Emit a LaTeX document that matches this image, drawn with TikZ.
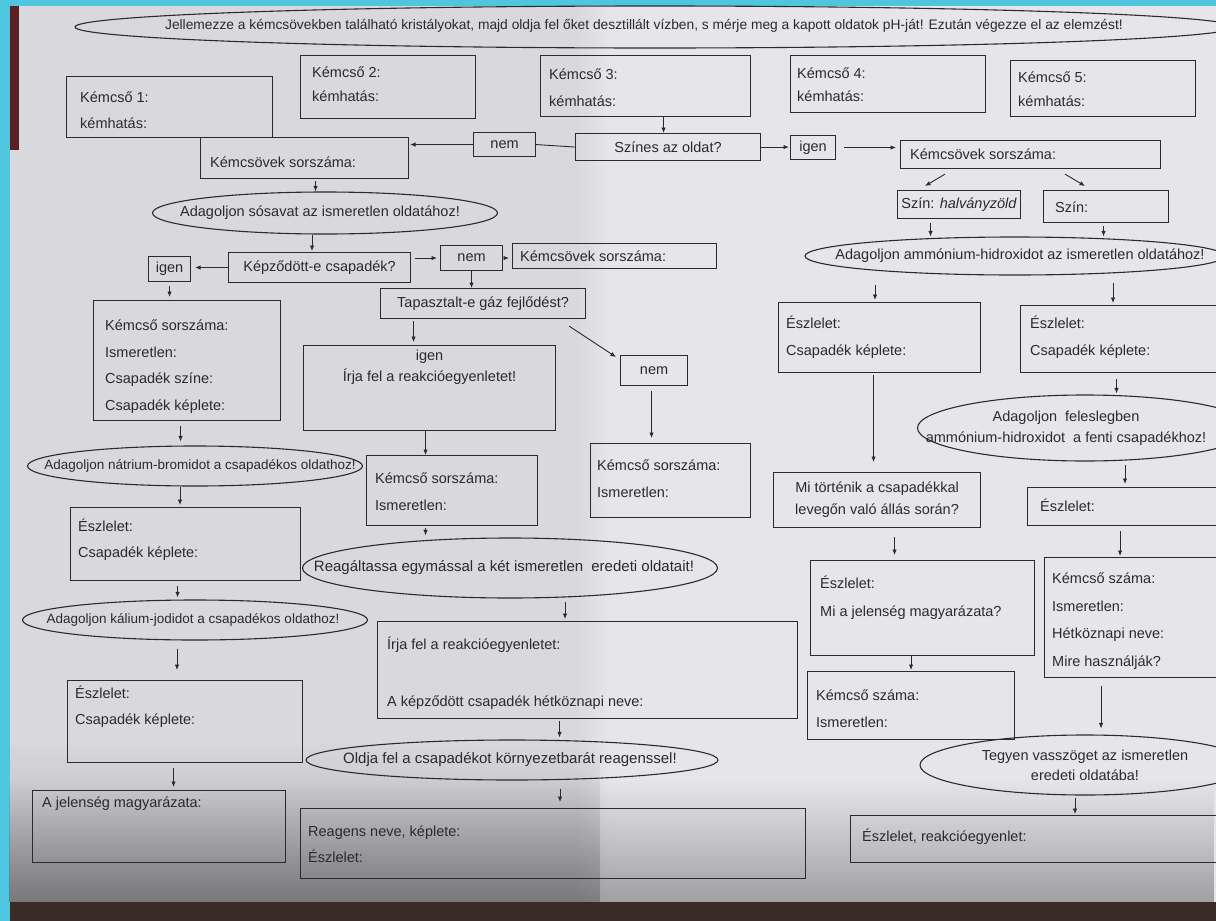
\documentclass[tikz,border=0pt]{standalone}
\usepackage{fontspec}
\setmainfont{Liberation Sans}
\usetikzlibrary{shapes.geometric,arrows.meta,fadings}
\definecolor{paperL}{HTML}{D8D8DD}
\definecolor{paperR}{HTML}{E6E6EA}
\definecolor{ink}{HTML}{2B2B2E}
\definecolor{cyanbg}{HTML}{4FC6DF}
\definecolor{floorc}{HTML}{3A2B27}
\definecolor{edgec}{HTML}{5A2024}
\newcommand{\tfs}{\fontsize{14.5}{17}\selectfont}
\newcommand{\sfs}{\fontsize{13.5}{16}\selectfont}
\newcommand{\hfs}{\fontsize{13.8}{16}\selectfont}
\newcommand{\mkbox}[5]{\node[bx,minimum width={#4pt-#2pt},minimum height={#5pt-#3pt}] (#1) at (#2,#3) {};}
\newcommand{\putt}[4]{\node[tx] (#1) at (#2,#3) {#4};}
\begin{document}
\begin{tikzpicture}[x=1pt,y=-1pt,
  bx/.style={draw=ink,line width=1.1pt,inner sep=0pt,anchor=north west,rectangle},
  ell/.style={draw=ink,line width=1.1pt,ellipse,inner sep=0pt},
  tx/.style={anchor=base west,inner sep=0pt,text=ink,font=\tfs},
  ctr/.style={inner sep=0pt,text=ink,font=\tfs,align=center},
  arr/.style={draw=ink,line width=0.9pt,-{Latex[length=5.5pt,width=4.5pt]}},
  ln/.style={draw=ink,line width=0.9pt}]
\useasboundingbox (0,0) rectangle (1216,921);
\clip (0,0) rectangle (1216,921);
% background: photo of the sheet
\fill[cyanbg] (0,0) rectangle (1216,921);
\fill[paperL] (10,6) rectangle (575,902);
\shade[left color=paperL,right color=paperR] (575,6) rectangle (610,902);
\fill[paperR] (610,6) rectangle (1216,902);
\fill[black,opacity=0.3,path fading=north] (10,780) rectangle (1216,902);
\fill[black,opacity=0.2,path fading=north] (10,740) rectangle (600,902);
\fill[edgec] (10,6) rectangle (19,150);
\fill[floorc] (10,902) rectangle (1216,921);

% header
\node[ell,minimum width=1160,minimum height=42] (top) at (655,27) {};
\node[ctr,font=\hfs] (topt) at (644,26) {Jellemezze a kémcsövekben található kristályokat, majd oldja fel őket desztillált vízben, s mérje meg a kapott oldatok pH-ját! Ezután végezze el az elemzést!};

% test tubes row
\mkbox{k1}{66}{76}{272}{137}
\putt{k1a}{80}{102}{Kémcső 1:}\putt{k1b}{80}{128}{kémhatás:}
\mkbox{k2}{300}{55}{475}{118}
\putt{k2a}{312}{77}{Kémcső 2:}\putt{k2b}{312}{101}{kémhatás:}
\mkbox{k3}{540}{55}{750}{116}
\putt{k3a}{549}{79}{Kémcső 3:}\putt{k3b}{549}{106}{kémhatás:}
\mkbox{k4}{790}{55}{985}{112}
\putt{k4a}{797}{78}{Kémcső 4:}\putt{k4b}{797}{101}{kémhatás:}
\mkbox{k5}{1010}{60}{1195}{116}
\putt{k5a}{1018}{82}{Kémcső 5:}\putt{k5b}{1018}{106}{kémhatás:}

% colour question
\mkbox{szines}{575}{133}{760}{160}
\node[ctr] (szinest) at (szines.center) {Színes az oldat?};
\mkbox{nem1}{473}{132}{535}{156}
\node[ctr] (nem1t) at (nem1.center) {nem};
\mkbox{ksl}{200}{137}{408}{178}
\putt{kslt}{210}{167}{Kémcsövek sorszáma:}
\mkbox{igen1}{790}{135}{835}{159}
\node[ctr] (igen1t) at (igen1.center) {igen};
\mkbox{ksr}{900}{140}{1160}{168}
\putt{ksrt}{910}{159}{Kémcsövek sorszáma:}

\draw[arr] ([xshift=18pt]k3.south) -- ([xshift=18pt]k3.south |- szines.north);
\draw[ln] (szines.west) -- (nem1.east);
\draw[arr,shorten >=1pt] (nem1.west) -- (nem1.west -| ksl.east);
\draw[arr,shorten >=1pt] (szines.east) -- (szines.east -| igen1.west);
\draw[arr,shorten <=8pt,shorten >=4pt] (igen1.east) -- (igen1.east -| ksr.west);

% left branch
\node[ell,minimum width=345,minimum height=42] (sos) at (325,213) {};
\node[ctr] (sost) at (320,213) {Adagoljon sósavat az ismeretlen oldatához!};
\mkbox{kepz}{228}{252}{410}{282}
\node[ctr] (kepzt) at (kepz.center) {Képződött-e csapadék?};
\mkbox{igen2}{148}{256}{190}{281}
\node[ctr] (igen2t) at (igen2.center) {igen};
\mkbox{nem2}{440}{245}{502}{270}
\node[ctr] (nem2t) at (nem2.center) {nem};
\mkbox{ksm}{512}{243}{716}{268}
\putt{ksmt}{520}{261}{Kémcsövek sorszáma:}
\mkbox{tap}{380}{288}{585}{318}
\node[ctr] (tapt) at (tap.center) {Tapasztalt-e gáz fejlődést?};

\draw[arr,shorten <=2pt] ([xshift=11pt]ksl.south) -- ([xshift=11pt]ksl.south |- sos.north);
\draw[arr,shorten >=1pt] ([xshift=-13pt]sos.south) -- ([xshift=-13pt]sos.south |- kepz.north);
\draw[arr,shorten >=4pt] (kepz.west) -- (kepz.west -| igen2.east);
\draw[arr,shorten <=4pt,shorten >=3pt] (kepz.east |- nem2.west) -- (nem2.west);
\draw[arr,shorten <=4pt,shorten >=3pt] (nem2.east) -- (nem2.east -| ksm.west);
\draw[arr] (nem2.south) -- (nem2.south |- tap.north);

\mkbox{kcs1}{93}{300}{280}{420}
\putt{kcs1a}{105}{330}{Kémcső sorszáma:}
\putt{kcs1b}{105}{357}{Ismeretlen:}
\putt{kcs1c}{105}{383}{Csapadék színe:}
\putt{kcs1d}{105}{410}{Csapadék képlete:}
\draw[arr,shorten <=4pt,shorten >=3pt] (igen2.south) -- (igen2.south |- kcs1.north);

\node[ell,minimum width=335,minimum height=40] (nabr) at (195,466) {};
\node[ctr,font=\sfs] (nabrt) at (200,466) {Adagoljon nátrium-bromidot a csapadékos oldathoz!};
\draw[arr,shorten <=5pt,shorten >=4pt] ([xshift=-6.5pt]kcs1.south) -- ([xshift=-6.5pt]kcs1.south |- nabr.north);
\mkbox{esz1}{70}{507}{300}{580}
\putt{esz1a}{78}{531}{Észlelet:}
\putt{esz1b}{78}{557}{Csapadék képlete:}
\draw[arr,shorten >=2pt] ([xshift=-15pt]nabr.south) -- ([xshift=-15pt]nabr.south |- esz1.north);

\node[ell,minimum width=345,minimum height=40] (kj) at (195,620) {};
\node[ctr,font=\sfs] (kjt) at (193,620) {Adagoljon kálium-jodidot a csapadékos oldathoz!};
\draw[arr,shorten <=5pt,shorten >=2pt] ([xshift=-8pt]esz1.south) -- ([xshift=-8pt]esz1.south |- kj.north);
\mkbox{esz2}{67}{680}{302}{762}
\putt{esz2a}{75}{698}{Észlelet:}
\putt{esz2b}{75}{724}{Csapadék képlete:}
\draw[arr,shorten <=8pt,shorten >=10pt] ([xshift=-18pt]kj.south) -- ([xshift=-18pt]kj.south |- esz2.north);

\mkbox{jel}{32}{790}{285}{862}
\putt{jelt}{42}{807}{A jelenség magyarázata:}
\draw[arr,shorten <=5pt,shorten >=3pt] ([xshift=-11.5pt]esz2.south) -- ([xshift=-11.5pt]esz2.south |- jel.north);

% middle branch
\mkbox{igb}{303}{345}{555}{430}
\node[ctr,anchor=north] (igbt) at ([yshift=-5pt]igb.north) {igen\\[4pt]Írja fel a reakcióegyenletet!};
\draw[arr,shorten <=2pt,shorten >=3pt] ([xshift=-69.5pt]tap.south) -- ([xshift=-69.5pt]tap.south |- igb.north);
\mkbox{nem3}{620}{355}{687}{385}
\node[ctr] (nem3t) at (nem3.center) {nem};
\draw[arr] ([shift={(-17pt,-7pt)}]tap.south east) -- ([shift={(-4pt,-2pt)}]nem3.north west);

\mkbox{kcs2}{366}{455}{537}{525}
\putt{kcs2a}{375}{483}{Kémcső sorszáma:}
\putt{kcs2b}{375}{510}{Ismeretlen:}
\draw[arr] ([xshift=-4pt]igb.south) -- ([xshift=-4pt]igb.south |- kcs2.north);
\mkbox{kcs3}{590}{443}{750}{517}
\putt{kcs3a}{597}{470}{Kémcső sorszáma:}
\putt{kcs3b}{597}{497}{Ismeretlen:}
\draw[arr,shorten <=5pt,shorten >=5pt] ([xshift=-2.5pt]nem3.south) -- ([xshift=-2.5pt]nem3.south |- kcs3.north);

\node[ell,minimum width=415,minimum height=60] (reag) at (510,568) {};
\node[ctr,font=\fontsize{15}{18}\selectfont] (reagt) at (504,568) {Reagáltassa egymással a két ismeretlen\hspace{4pt} eredeti oldatait!};
\draw[arr,shorten <=2pt,shorten >=2pt] ([xshift=-26.5pt]kcs2.south) -- ([xshift=-26.5pt]kcs2.south |- reag.north);
\mkbox{irja}{377}{621}{797}{718}
\putt{irjaa}{387}{649}{Írja fel a reakcióegyenletet:}
\putt{irjab}{387}{706}{A képződött csapadék hétköznapi neve:}
\draw[arr,shorten <=3pt,shorten >=2pt] ([xshift=55pt]reag.south) -- ([xshift=55pt]reag.south |- irja.north);
\node[ell,minimum width=412,minimum height=40] (oldja) at (512,760) {};
\node[ctr,font=\fontsize{15}{18}\selectfont] (oldjat) at (510,760) {Oldja fel a csapadékot környezetbarát reagenssel!};
\draw[arr,shorten <=2pt,shorten >=2pt] ([xshift=-28pt]irja.south) -- ([xshift=-28pt]irja.south |- oldja.north);
\mkbox{reagens}{300}{808}{805}{878}
\putt{reagensa}{308}{836}{Reagens neve, képlete:}
\putt{reagensb}{308}{862}{Észlelet:}
\draw[arr,shorten <=8pt,shorten >=6pt] ([xshift=48pt]oldja.south) -- ([xshift=48pt]oldja.south |- reagens.north);

% right branch
\mkbox{szin1}{897}{190}{1020}{218}
\node[ctr] (szin1t) at (szin1.center) {Szín: \textit{halványzöld}};
\mkbox{szin2}{1043}{190}{1168}{222}
\putt{szin2t}{1055}{212}{Szín:}
\draw[arr] ([shift={(45pt,-5pt)}]ksr.south west) -- ([shift={(28pt,4pt)}]szin1.north west);
\draw[arr] ([shift={(165pt,-5pt)}]ksr.south west) -- ([shift={(42pt,4pt)}]szin2.north west);

\node[ell,minimum width=420,minimum height=38] (amm) at (1015,256) {};
\node[ctr] (ammt) at (1020,256) {Adagoljon ammónium-hidroxidot az ismeretlen oldatához!};
\draw[arr,shorten <=4pt] ([xshift=-28.5pt]szin1.south) -- ([xshift=-28.5pt]szin1.south |- amm.north);
\draw[arr,shorten <=3pt] ([xshift=-2.5pt]szin2.south) -- ([xshift=-2.5pt]szin2.south |- amm.north);

\mkbox{esz3}{778}{302}{980}{372}
\putt{esz3a}{786}{328}{Észlelet:}
\putt{esz3b}{786}{355}{Csapadék képlete:}
\mkbox{esz4}{1020}{305}{1230}{372}
\putt{esz4a}{1030}{328}{Észlelet:}
\putt{esz4b}{1030}{355}{Csapadék képlete:}
\draw[arr,shorten <=9pt,shorten >=2pt] ([xshift=-140pt]amm.south) -- ([xshift=-140pt]amm.south |- esz3.north);
\draw[arr,shorten <=7pt,shorten >=2pt] ([xshift=98pt]amm.south) -- ([xshift=98pt]amm.south |- esz4.north);

\mkbox{mi}{773}{472}{980}{527}
\node[ctr] (mit) at (mi.center) {Mi történik a csapadékkal\\[5pt]levegőn való állás során?};
\draw[arr,shorten <=2pt,shorten >=10pt] ([xshift=-6pt]esz3.south) -- ([xshift=-6pt]esz3.south |- mi.north);

\node[ell,minimum width=335,minimum height=66] (fel) at (1085,428) {};
\node[ctr] (felt) at (1066,428) {Adagoljon\hspace{4pt} feleslegben\\[4pt]ammónium-hidroxidot\hspace{4pt} a fenti csapadékhoz!};
\draw[arr,shorten <=6pt,shorten >=1pt] ([xshift=-9pt]esz4.south) -- ([xshift=-9pt]esz4.south |- fel.north);
\mkbox{esz5}{1027}{487}{1230}{525}
\putt{esz5t}{1040}{511}{Észlelet:}
\draw[arr,shorten <=3pt,shorten >=3pt] ([xshift=40pt]fel.south) -- ([xshift=40pt]fel.south |- esz5.north);

\mkbox{hk}{1044}{557}{1230}{677}
\putt{hka}{1052}{583}{Kémcső száma:}
\putt{hkb}{1052}{611}{Ismeretlen:}
\putt{hkc}{1052}{638}{Hétköznapi neve:}
\putt{hkd}{1052}{666}{Mire használják?}
\draw[arr,shorten <=5pt,shorten >=1pt] ([xshift=-9pt]esz5.south) -- ([xshift=-9pt]esz5.south |- hk.north);

\mkbox{esz6}{810}{560}{1034}{655}
\putt{esz6a}{820}{588}{Észlelet:}
\putt{esz6b}{820}{616}{Mi a jelenség magyarázata?}
\draw[arr,shorten <=9pt,shorten >=5pt] ([xshift=17.5pt]mi.south) -- ([xshift=17.5pt]mi.south |- esz6.north);

\mkbox{ks7}{807}{671}{1014}{739}
\putt{ks7a}{816}{700}{Kémcső száma:}
\putt{ks7b}{816}{727}{Ismeretlen:}
\draw[arr,shorten >=1pt] (esz6.south -| ks7.north) -- (ks7.north);

\node[ell,minimum width=330,minimum height=60] (vas) at (1085,765) {};
\node[ctr] (vast) at (1085,765) {Tegyen vasszöget az ismeretlen\\[3pt]eredeti oldatába!};
\draw[arr,shorten <=8pt,shorten >=6pt] ([xshift=-36.5pt]hk.south) -- ([xshift=-36.5pt]hk.south |- vas.north);
\mkbox{esz7}{850}{815}{1230}{862}
\putt{esz7t}{862}{841}{Észlelet, reakcióegyenlet:}
\draw[arr,shorten <=2pt,shorten >=1pt] ([xshift=-10pt]vas.south) -- ([xshift=-10pt]vas.south |- esz7.north);
\end{tikzpicture}
\end{document}
